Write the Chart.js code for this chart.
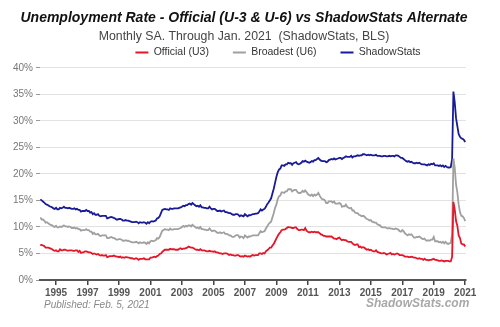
<!DOCTYPE html>
<html>
<head>
<meta charset="utf-8">
<script src="https://cdn.jsdelivr.net/npm/chart.js@4.4.1/dist/chart.umd.min.js"></script>
<style>
  body { margin: 0; background: #fff; }
  #wrap { position: relative; width: 500px; height: 327px; }
  .foot { position: absolute; font-family: 'Liberation Sans', Arial, sans-serif; white-space: nowrap; }
  #published { left: 44px; top: 299px; font-size: 10px; font-style: italic; color: #888; }
  #brand { left: 366px; top: 296px; font-size: 12px; font-style: italic; font-weight: bold; color: #a8a8a8; }
</style>
</head>
<body>
<div id="wrap">
  <canvas id="unempChart" width="500" height="327"></canvas>
  <div class="foot" id="published">Published: Feb. 5, 2021</div>
  <div class="foot" id="brand">ShadowStats.com</div>
</div>
<script>
// monthly, seasonally adjusted, Jan 1994 .. Jan 2021
const startYear = 1994;

const official = [
  6.6,6.6,6.5,6.4,6.1,6.1,6.1,6.0,5.9,5.8,5.6,5.5,
  5.6,5.4,5.4,5.8,5.6,5.6,5.7,5.7,5.6,5.5,5.6,5.6,
  5.6,5.5,5.5,5.6,5.6,5.3,5.5,5.1,5.2,5.2,5.4,5.4,
  5.3,5.2,5.2,5.1,4.9,5.0,4.9,4.8,4.9,4.7,4.6,4.7,
  4.6,4.6,4.7,4.3,4.4,4.5,4.5,4.5,4.6,4.5,4.4,4.4,
  4.3,4.4,4.2,4.3,4.2,4.3,4.3,4.2,4.2,4.1,4.1,4.0,
  4.0,4.1,4.0,3.8,4.0,4.0,4.0,4.1,3.9,3.9,3.9,3.9,
  4.2,4.2,4.3,4.4,4.3,4.5,4.6,4.9,5.0,5.3,5.5,5.7,
  5.7,5.7,5.7,5.9,5.8,5.8,5.8,5.7,5.7,5.7,5.9,6.0,
  5.8,5.9,5.9,6.0,6.1,6.3,6.2,6.1,6.1,6.0,5.8,5.7,
  5.7,5.6,5.8,5.6,5.6,5.6,5.5,5.4,5.4,5.5,5.4,5.4,
  5.3,5.4,5.2,5.2,5.1,5.0,5.0,4.9,5.0,5.0,5.0,4.9,
  4.7,4.8,4.7,4.7,4.6,4.6,4.7,4.7,4.5,4.4,4.5,4.4,
  4.6,4.5,4.4,4.5,4.4,4.6,4.7,4.6,4.7,4.7,4.7,5.0,
  5.0,4.9,5.1,5.0,5.4,5.6,5.8,6.1,6.1,6.5,6.8,7.3,
  7.8,8.3,8.7,9.0,9.4,9.5,9.5,9.6,9.8,10.0,9.9,9.9,
  9.8,9.8,9.9,9.9,9.6,9.4,9.4,9.5,9.5,9.4,9.8,9.3,
  9.1,9.0,9.0,9.1,9.0,9.1,9.0,9.0,9.0,8.8,8.6,8.5,
  8.3,8.3,8.2,8.2,8.2,8.2,8.2,8.0,7.8,7.8,7.7,7.9,
  8.0,7.7,7.5,7.6,7.5,7.5,7.3,7.2,7.2,7.2,6.9,6.7,
  6.6,6.7,6.7,6.2,6.3,6.1,6.2,6.1,5.9,5.7,5.8,5.6,
  5.7,5.5,5.4,5.4,5.6,5.3,5.2,5.1,5.0,5.0,5.1,5.0,
  4.8,4.9,5.0,5.1,4.8,4.9,4.8,4.9,5.0,4.9,4.7,4.7,
  4.7,4.6,4.4,4.4,4.4,4.3,4.3,4.4,4.3,4.2,4.2,4.1,
  4.0,4.1,4.0,4.0,3.8,4.0,3.8,3.8,3.7,3.8,3.8,3.9,
  4.0,3.8,3.8,3.7,3.6,3.6,3.7,3.6,3.5,3.6,3.6,3.6,
  3.5,3.5,4.4,14.7,13.3,11.1,10.2,8.4,7.9,6.9,6.7,6.7,
  6.3
];

const broadest = [
  11.8,11.4,11.4,11.2,10.8,10.9,10.7,10.5,10.4,10.3,10.1,10.0,
  10.2,9.9,9.9,10.1,10.0,10.1,10.3,10.1,10.1,10.0,10.1,10.0,
  9.8,9.8,9.9,9.7,9.8,9.6,9.6,9.3,9.4,9.4,9.4,9.6,
  9.4,9.4,9.1,9.1,8.7,8.9,8.6,8.6,8.7,8.4,8.3,8.4,
  8.4,8.4,8.4,7.9,7.9,8.0,8.1,8.0,7.9,7.8,7.6,7.6,
  7.7,7.7,7.6,7.4,7.4,7.5,7.4,7.4,7.3,7.2,7.1,7.1,
  7.1,7.2,7.1,6.9,7.1,7.0,7.0,7.1,7.0,6.8,7.1,6.9,
  7.3,7.4,7.3,7.4,7.5,7.9,7.8,8.1,8.7,9.3,9.4,9.6,
  9.5,9.5,9.4,9.7,9.5,9.5,9.6,9.6,9.6,9.6,9.7,9.8,
  10.0,10.2,10.0,10.2,10.1,10.3,10.3,10.1,10.4,10.2,10.0,9.8,
  9.9,9.7,10.0,9.6,9.6,9.5,9.5,9.4,9.4,9.7,9.4,9.2,
  9.3,9.3,9.1,8.9,8.9,9.0,8.8,8.9,9.0,8.7,8.7,8.6,
  8.4,8.4,8.2,8.1,8.2,8.4,8.5,8.4,8.0,8.2,8.1,7.9,
  8.4,8.2,8.0,8.2,8.2,8.3,8.4,8.4,8.4,8.4,8.4,8.8,
  9.2,9.0,9.1,9.2,9.7,10.1,10.5,10.8,11.0,11.8,12.6,13.6,
  14.2,15.2,15.8,15.9,16.5,16.5,16.4,16.7,16.7,17.1,17.1,17.1,
  16.7,16.9,17.0,17.0,16.6,16.4,16.4,16.5,16.8,16.6,16.9,16.6,
  16.2,16.0,15.9,16.1,15.8,16.1,15.9,16.1,16.4,15.9,15.5,15.2,
  15.2,15.0,14.5,14.5,14.8,14.8,14.8,14.6,14.8,14.4,14.4,14.4,
  14.5,14.4,13.8,13.9,13.9,14.2,13.8,13.6,13.5,13.6,13.1,13.1,
  12.7,12.6,12.6,12.3,12.2,12.0,12.1,12.0,11.7,11.5,11.4,11.2,
  11.3,11.0,10.9,10.8,10.8,10.5,10.4,10.3,10.0,9.9,9.9,9.9,
  9.8,9.7,9.8,9.7,9.7,9.6,9.6,9.7,9.6,9.5,9.2,9.1,
  9.4,9.2,8.8,8.6,8.4,8.6,8.5,8.6,8.3,8.0,8.0,8.1,
  8.1,8.2,8.0,7.8,7.7,7.8,7.5,7.4,7.5,7.4,7.6,7.6,
  8.1,7.3,7.3,7.3,7.1,7.2,7.0,7.2,6.9,7.2,6.9,6.8,
  6.9,7.0,8.7,22.9,21.2,18.0,16.5,14.2,12.8,12.1,12.0,11.7,
  11.1
];

const shadowStats = [
  15.2,15.0,14.8,14.6,14.3,14.2,14.1,13.9,13.8,13.7,13.5,13.4,
  13.6,13.3,13.3,13.6,13.5,13.6,13.8,13.6,13.6,13.5,13.6,13.5,
  13.4,13.4,13.5,13.3,13.4,13.2,13.2,12.9,13.0,13.0,13.0,13.2,
  13.0,13.0,12.7,12.8,12.4,12.6,12.3,12.3,12.4,12.1,12.0,12.1,
  12.1,12.1,12.1,11.6,11.7,11.8,11.9,11.8,11.7,11.6,11.4,11.4,
  11.5,11.5,11.4,11.2,11.2,11.3,11.2,11.2,11.1,11.0,10.9,10.9,
  10.9,11.0,10.9,10.7,10.9,10.8,10.8,10.9,10.8,10.6,10.9,10.7,
  11.0,11.1,11.0,11.1,11.2,11.6,11.7,12.0,12.6,13.2,13.3,13.4,
  13.3,13.3,13.2,13.5,13.4,13.4,13.5,13.5,13.5,13.5,13.6,13.7,
  13.8,14.0,13.9,14.1,14.1,14.3,14.4,14.2,14.5,14.3,14.1,13.9,
  14.0,13.8,14.1,13.7,13.7,13.6,13.6,13.5,13.5,13.8,13.5,13.3,
  13.4,13.4,13.2,13.0,13.0,13.1,12.9,13.0,13.1,12.8,12.8,12.7,
  12.6,12.6,12.4,12.3,12.3,12.4,12.4,12.3,12.0,12.2,12.1,12.0,
  12.4,12.2,12.0,12.2,12.2,12.3,12.4,12.4,12.5,12.5,12.6,12.9,
  13.3,13.1,13.3,13.4,13.8,14.3,14.6,15.0,15.4,16.3,17.2,18.3,
  19.4,20.3,20.8,21.0,21.6,21.6,21.5,21.8,21.8,22.1,22.0,22.0,
  21.7,22.0,22.1,22.2,21.9,21.8,21.9,22.1,22.4,22.3,22.5,22.3,
  22.2,22.1,22.2,22.4,22.3,22.6,22.6,22.8,23.0,22.7,22.5,22.4,
  22.4,22.4,22.2,22.3,22.6,22.7,22.8,22.7,22.9,22.7,22.8,22.9,
  23.0,23.0,22.8,23.0,23.1,23.3,23.2,23.2,23.2,23.4,23.1,23.3,
  23.3,23.4,23.5,23.4,23.5,23.5,23.7,23.7,23.6,23.5,23.6,23.5,
  23.6,23.5,23.5,23.5,23.6,23.4,23.4,23.4,23.3,23.3,23.4,23.4,
  23.3,23.3,23.4,23.3,23.4,23.4,23.3,23.5,23.5,23.4,23.2,23.0,
  23.0,22.8,22.6,22.4,22.3,22.4,22.2,22.3,22.1,22.0,22.0,22.1,
  22.0,22.1,21.9,21.8,21.8,21.8,21.7,21.6,21.8,21.7,21.9,21.8,
  22.0,21.6,21.6,21.6,21.5,21.6,21.4,21.6,21.3,21.5,21.3,21.2,
  21.2,21.3,22.8,35.5,33.5,30.5,29.0,27.5,27.0,26.7,26.6,26.4,
  26.0
];

const seriesNames = ['Official (U3)', 'Broadest (U6)', 'ShadowStats'];
const tickYears = [1995, 1997, 1999, 2001, 2003, 2005, 2007, 2009, 2011, 2013, 2015, 2017, 2019, 2021];
const yTicks = [0, 5, 10, 15, 20, 25, 30, 35, 40];

const font = "'Liberation Sans', Arial, sans-serif";

function toPoints(values) {
    return values.map(function (v, i) {
        return { x: startYear + i / 12, y: v };
    });
}

function lineSet(label, values, color) {
    return {
        label: label,
        data: toPoints(values),
        yAxisID: 'y',
        borderColor: color,
        backgroundColor: color,
        borderWidth: 1.8,
        pointRadius: 0,
        tension: 0
    };
}

// the legend in the original sits a bit right of centre
const legendShift = {
    id: 'legendShift',
    afterInit: function (chart, args, opts) {
        const legend = chart.legend;
        const draw = legend.draw.bind(legend);
        legend.draw = function () {
            chart.ctx.save();
            chart.ctx.translate(opts.x || 0, 0);
            draw();
            chart.ctx.restore();
        };
    }
};

const ctx = document.getElementById('unempChart').getContext('2d');

new Chart(ctx, {
    type: 'line',
    data: {
        datasets: [
            lineSet(seriesNames[0], official, 'rgb(228,22,40)'),
            lineSet(seriesNames[1], broadest, 'rgb(160,160,160)'),
            lineSet(seriesNames[2], shadowStats, 'rgb(24,26,150)')
        ]
    },
    plugins: [legendShift],
    options: {
        responsive: false,
        animation: false,
        layout: { padding: { left: 0, right: 12, top: 0, bottom: 26 } },
        plugins: {
            title: {
                display: true,
                text: 'Unemployment Rate - Official (U-3 & U-6) vs ShadowStats Alternate',
                color: '#111',
                font: { family: font, size: 14, weight: 'bold', style: 'italic' },
                padding: { top: 9.6, bottom: -7.4 }
            },
            subtitle: {
                display: true,
                text: 'Monthly SA. Through Jan. 2021  (ShadowStats, BLS)',
                color: '#444',
                font: { family: font, size: 12.3 },
                padding: { top: 10.1, bottom: -20.6 }
            },
            legend: {
                display: true,
                labels: {
                    usePointStyle: true,
                    pointStyle: 'line',
                    pointStyleWidth: 13,
                    boxWidth: 13,
                    color: '#333',
                    padding: 24,
                    font: { family: font, size: 10.5 }
                }
            },
            legendShift: { x: 34 },
            tooltip: { enabled: false }
        },
        scales: {
            x: {
                type: 'linear',
                min: startYear - 0.02,
                max: 2021.05,
                afterBuildTicks: function (axis) {
                    axis.ticks = tickYears.map(function (y) { return { value: y }; });
                },
                ticks: {
                    color: '#555',
                    font: { family: font, size: 10, weight: 'bold' },
                    padding: 2,
                    maxRotation: 0,
                    callback: function (v) { return String(v); }
                },
                grid: {
                    drawOnChartArea: false,
                    drawTicks: true,
                    tickLength: 5,
                    tickColor: '#444',
                    lineWidth: 1.5
                },
                border: { display: true, color: '#555', width: 2 }
            },
            y: {
                min: 0,
                max: 40,
                afterBuildTicks: function (axis) {
                    axis.ticks = yTicks.map(function (v) { return { value: v }; });
                },
                afterFit: function (axis) {
                    axis.width = 40;
                },
                ticks: {
                    color: '#777',
                    font: { family: font, size: 10 },
                    padding: 3,
                    callback: function (v) { return v + '%'; }
                },
                grid: {
                    color: '#e2e2e2',
                    lineWidth: 1,
                    tickLength: 4,
                    tickColor: '#999'
                },
                border: { display: false }
            },
            // empty strip on the right so the plot ends where the original does
            yRight: {
                position: 'right',
                grid: { display: false },
                ticks: { display: false },
                border: { display: false },
                afterFit: function (axis) {
                    axis.width = 22;
                }
            }
        }
    }
});
</script>
</body>
</html>
